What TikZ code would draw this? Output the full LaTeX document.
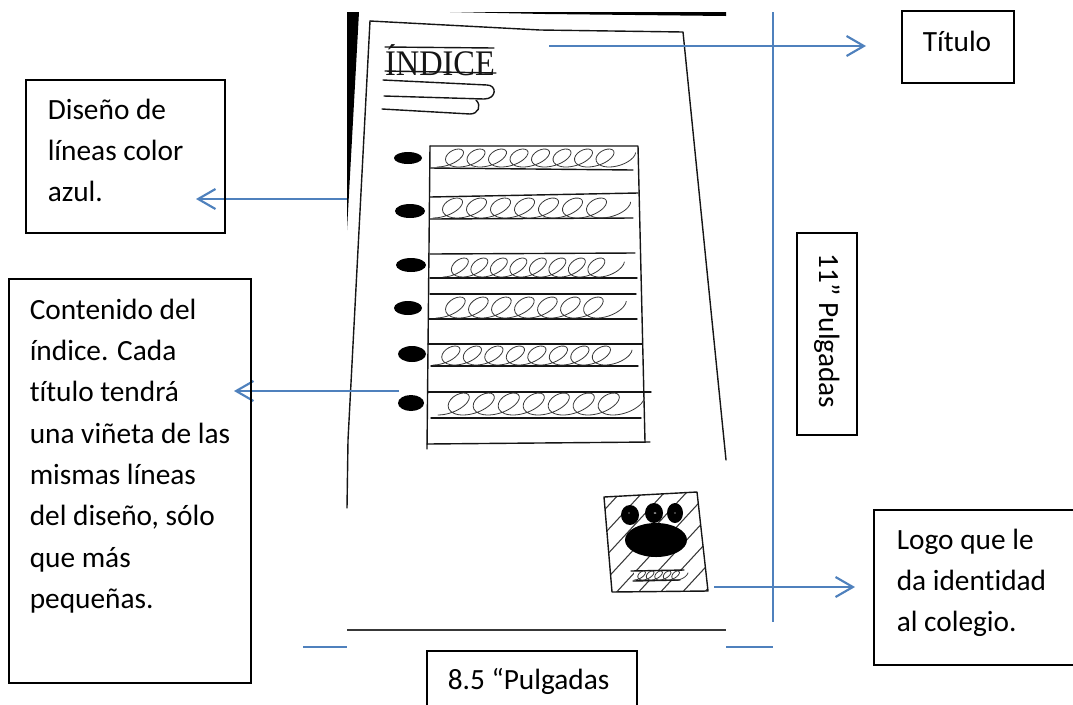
\documentclass[tikz,border=0pt]{standalone}
\usepackage{fontspec}
\setmainfont[Ligatures=NoCommon]{Carlito}
\newfontfamily\serifhand{Liberation Serif}
\usetikzlibrary{arrows.meta}
\definecolor{bluel}{HTML}{4F81BD}
\definecolor{pen}{HTML}{151515}
\newdimen\pxu \pxu=.75pt
\tikzset{
  tbx/.style={draw=black,line width=1.15pt,inner sep=0pt,anchor=north west,font=\fontsize{22}{31}\selectfont},
  bluelink/.style={draw=bluel,line width=1.8pt},
  bluearrow/.style={bluelink,-{Straight Barb[length=13pt,width=15pt,line width=1.6pt]}},
  penline/.style={draw=pen,line width=1.05pt,line cap=round,line join=round},
  thinpen/.style={draw=pen!85,line width=.6pt,line cap=round,line join=round},
  blob/.style={fill=black,draw=none}
}
% #1 name, #2 x, #3 y, #4 w, #5 h, #6 left pad, #7 top pad, #8 text
\newcommand{\tbox}[8]{\node[tbx] (#1) at (#2,#3) {\parbox[c][#5\pxu][t]{#4\pxu}{\vspace*{#7\pxu}\raggedright\leftskip=#6\pxu #8}};}
% #1 start x, #2 base, #3 height, #4 number of loops, #5 spacing
\newcommand{\curs}[5]{\draw[thinpen] plot[smooth,domain=0:{2*pi*#4+2.2},samples={22*#4+8}] ({#1+#5/6.283*\x+(#5*.6)*sin(\x r)+(#3*.6)*(1-cos(\x r))/2},{#2-#3*(1-cos(\x r))/2});}
\begin{document}
\begin{tikzpicture}[x=.75pt,y=-.75pt]
\useasboundingbox (0,0) rectangle (1073,704);
% photograph edges
\fill[black] (347,12) -- (359,12) -- (347,230) -- cycle;
\fill[black] (450,12) -- (726,12) -- (726,16) -- (545,14) -- cycle;
% sheet outline
\draw[penline] (370,21) -- (348,440) -- (347,508);
\draw[penline] (370,21) -- (540,30) -- (683,32) -- (726,460);
\draw[draw=pen!85,line width=1.2pt] (347,630) -- (726,630);
% heading
\node[inner sep=0pt,text=pen,font=\serifhand\fontsize{27}{27}\selectfont,xscale=.9] (heading) at (440,60.5) {ÍNDICE};
\draw[penline] (385,47) -- (494,48);
\draw[penline] (385,71) -- (496,73);
\draw[penline] (383,80) -- (487,85) .. controls (497,85) and (497,99) .. (484,99) -- (384,96);
\draw[penline] (476,100) .. controls (482,106) and (478,114) .. (470,114) -- (382,109);
% table of contents
\draw[penline] (430,146) -- (427,449);
\draw[penline] (430,146) -- (638,146) -- (645,442);
\foreach \xa/\ya/\xb/\yb in {430/168/633/170,430/197/638/193,430/219/633/218,430/254/635/253,430/278/637/278,430/294/636/294,429/319/637/319,428/344/642/344,431/366/638/366,428/392/651/392,431/418/641/418,427/444/650/442}
  \draw[penline] (\xa,\ya) -- (\xb,\yb);
\curs{437}{167}{18}{8}{21.5}
\curs{433}{218}{20}{7}{24}
\curs{443}{277}{19}{8}{19.5}
\curs{436}{318}{21}{7}{23}
\curs{433}{365}{19}{8}{21.5}
\curs{438}{415}{22}{7}{25}
% bullets
\foreach \cx/\cy/\rx/\ry in {408/158/14/6,410/211/15/7,411/265/15/7,408/308/14/7,412/354/14/8,411/403/13/8}
  \fill[black] (\cx,\cy) ellipse [x radius=\rx,y radius=\ry];
% logo
\begin{scope}
\clip (604,497) -- (697,492) -- (708,591) -- (612,592) -- cycle;
\foreach \d in {-70,-48,...,130}
  \draw[thinpen,line width=.8pt] (560+\d,610) -- (680+\d,480);
\end{scope}
\draw[penline] (604,497) -- (697,492) -- (708,591) -- (612,592) -- cycle;
\fill[blob] (630,515) ellipse [x radius=9,y radius=10];
\fill[blob] (654,513) ellipse [x radius=9,y radius=10];
\fill[blob] (675,513) ellipse [x radius=8,y radius=10];
\fill[blob] (656,540) ellipse [x radius=31,y radius=17];
\fill[white] (629,513) circle (.6);
\fill[white] (655,513) ellipse [x radius=1.5,y radius=.6];
\fill[white] (675,513) circle (.6);
\fill[white] (634,571) rectangle (682,581);
\draw[penline] (631,571) -- (684,570);
\draw[penline] (633,581) -- (680,580);
\curs{634}{580}{9}{5}{8.5}
% blue measures
\coordinate (tStart) at (549,46);
\coordinate (tEnd) at (866,46);
\coordinate (dStart) at (347,199);
\coordinate (dEnd) at (196,199);
\coordinate (cStart) at (399,391);
\coordinate (cEnd) at (234,391);
\coordinate (lStart) at (714,587);
\coordinate (lEnd) at (855,587);
\coordinate (vTop) at (773,12);
\coordinate (vBot) at (773,622);
\coordinate (wA) at (303,647);
\coordinate (wB) at (347,647);
\coordinate (wC) at (726,647);
\coordinate (wD) at (773,647);
\draw[bluelink] (vTop) -- (vBot);
\draw[bluelink] (wA) -- (wB);
\draw[bluelink] (wC) -- (wD);
\draw[bluearrow] (tStart) -- (tEnd);
\draw[bluearrow] (dStart) -- (dEnd);
\draw[bluearrow] (cStart) -- (cEnd);
\draw[bluearrow] (lStart) -- (lEnd);
% labelled boxes
\tbox{titulo}{901}{10}{112}{72}{21}{20}{Título}
\tbox{diseno}{25}{79}{199}{153}{22}{19}{Diseño de\\líneas color\\azul.}
\tbox{contenido}{8}{278}{242}{404}{21}{20}{Contenido del\\índice. Cada\\título tendrá\\una viñeta de las\\mismas líneas\\del diseño, sólo\\que más\\pequeñas.}
\tbox{logo}{873}{509}{215}{155}{23}{19}{Logo que le\\da identidad\\al colegio.}
\tbox{ancho}{426}{650}{210}{70}{21}{18}{8.5 “Pulgadas}
\node[draw=black,line width=1.15pt,rotate=-90,inner sep=0pt,minimum width=202\pxu,minimum height=60\pxu,font=\fontsize{22}{26}\selectfont] (alto) at (827,334) {\raisebox{-2\pxu}{11” Pulgadas}\hspace*{6\pxu}};
\end{tikzpicture}
\end{document}
